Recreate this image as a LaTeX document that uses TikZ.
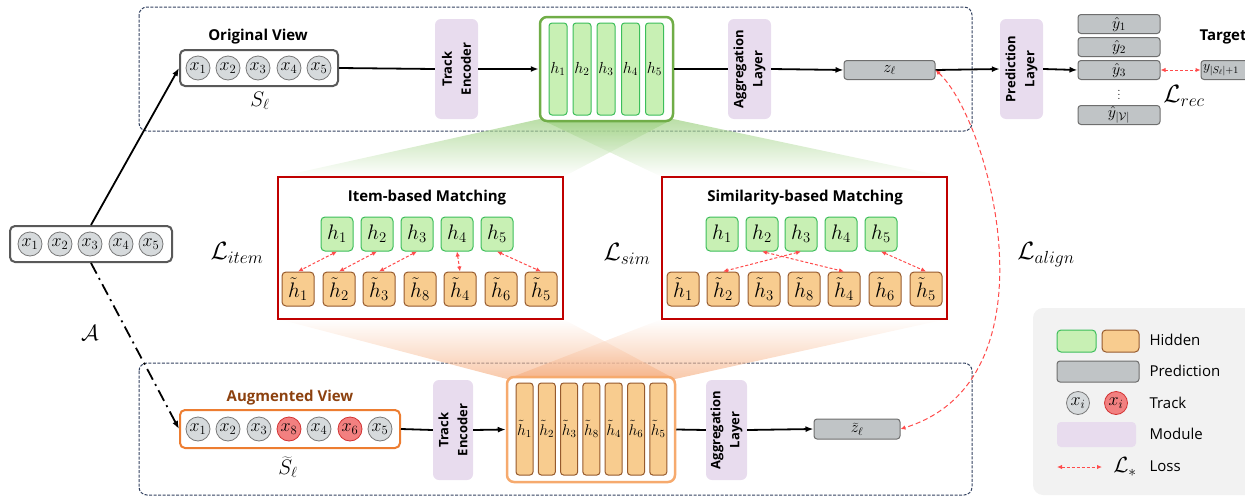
\RequirePackage{fix-cm}
\documentclass[tikz,border=0pt]{standalone}
\usepackage{fontspec}
\setsansfont{Open Sans}
\usetikzlibrary{arrows.meta,calc}
\newcommand{\fsz}[2]{\fontsize{#1}{#2}\selectfont}
\definecolor{vline}{RGB}{50,65,95}
\definecolor{seqgray}{RGB}{89,89,89}
\definecolor{tokfill}{RGB}{214,218,220}
\definecolor{tokdraw}{RGB}{120,120,120}
\definecolor{redtokfill}{RGB}{242,128,128}
\definecolor{redtokdraw}{RGB}{210,50,50}
\definecolor{modfill}{RGB}{232,220,238}
\definecolor{gfill}{RGB}{200,240,180}
\definecolor{gdraw}{RGB}{60,190,90}
\definecolor{gouter}{RGB}{112,173,71}
\definecolor{ofill}{RGB}{248,204,143}
\definecolor{odraw}{RGB}{150,90,45}
\definecolor{oouter}{RGB}{246,170,110}
\definecolor{augdraw}{RGB}{237,125,49}
\definecolor{predfill}{RGB}{192,196,198}
\definecolor{preddraw}{RGB}{110,110,110}
\definecolor{matchred}{RGB}{192,0,0}
\definecolor{lossred}{RGB}{255,75,75}
\definecolor{augtext}{RGB}{140,65,15}
\definecolor{legfill}{RGB}{242,242,242}
\definecolor{fangreen}{RGB}{150,205,120}
\definecolor{fanorange}{RGB}{244,165,115}
\tikzset{
  vbox/.style={draw=vline, dash pattern=on 3pt off 1.5pt, line width=1pt, rounded corners=8pt},
  seqbox/.style={draw=seqgray, line width=2pt, rounded corners=5pt, fill=white},
  augbox/.style={draw=augdraw, line width=2pt, rounded corners=5pt, fill=white},
  tok/.style={circle, draw=tokdraw, fill=tokfill, line width=0.8pt, minimum size=24pt, inner sep=0pt, font=\fsz{18}{18}},
  tokred/.style={tok, fill=redtokfill, draw=redtokdraw},
  module/.style={fill=modfill, rounded corners=6pt, minimum width=100pt, minimum height=43pt, rotate=90, align=center, inner sep=0pt, font=\sffamily\bfseries\fsz{13}{19}},
  gbar/.style={draw=gdraw, fill=gfill, line width=1pt, rounded corners=3pt, minimum width=18pt, minimum height=92pt, inner sep=0pt, font=\fsz{16}{16}},
  obar/.style={draw=odraw, fill=ofill, line width=1pt, rounded corners=3pt, minimum width=17pt, minimum height=92pt, inner sep=0pt, font=\fsz{15.5}{15.5}},
  gnode/.style={draw=gdraw, fill=gfill, line width=1pt, rounded corners=4pt, minimum width=32pt, minimum height=34pt, inner sep=0pt, font=\fsz{21}{21}},
  onode/.style={draw=odraw, fill=ofill, line width=1pt, rounded corners=4pt, minimum width=32pt, minimum height=34pt, inner sep=0pt, font=\fsz{21}{21}},
  pred/.style={draw=preddraw, fill=predfill, line width=1pt, rounded corners=3pt, minimum height=19pt, inner sep=0pt, font=\fsz{16}{16}},
  matchbox/.style={draw=matchred, line width=2.5pt},
  title/.style={font=\sffamily\bfseries\fsz{15}{15}},
  legtext/.style={anchor=west, font=\sffamily\fsz{15}{15}},
  lbl/.style={font=\fsz{25}{25}},
  arr/.style={-{Latex[length=8pt,width=6pt]}, line width=1.8pt},
  plain/.style={line width=1.8pt},
  loss/.style={{Latex[length=5pt,width=4.5pt]}-{Latex[length=5pt,width=4.5pt]}, draw=lossred, line width=1pt, dash pattern=on 3pt off 2pt},
}
\begin{document}
\begin{tikzpicture}[x=1pt,y=-1pt]
\useasboundingbox (0,0) rectangle (1245,498);
% view frames
\draw[vbox] (139,7) rectangle (972,131);
\draw[vbox] (139,363) rectangle (972,495);
% fans
\shade[top color=fangreen, bottom color=white, opacity=0.65] (540,119) -- (673,119) -- (563,177) -- (278,177) -- cycle;
\shade[top color=fangreen, bottom color=white, opacity=0.65] (540,119) -- (673,119) -- (947,177) -- (662,177) -- cycle;
\shade[top color=white, bottom color=fanorange, opacity=0.6] (278,319) -- (563,319) -- (675,379) -- (507,379) -- cycle;
\shade[top color=white, bottom color=fanorange, opacity=0.6] (662,319) -- (947,319) -- (675,379) -- (507,379) -- cycle;

% ---------- input sequence ----------
\node[seqbox, minimum width=162pt, minimum height=36pt] (in) at (91,244) {};
\node[tok] (i1) at (30,244) {$x_1$};
\node[tok] (i2) at (60,244) {$x_2$};
\node[tok] (i3) at (90,244) {$x_3$};
\node[tok] (i4) at (121,244) {$x_4$};
\node[tok] (i5) at (151,244) {$x_5$};
\node[font=\fsz{22}{22}] (A) at (90,333) {$\mathcal{A}$};

% ---------- original view ----------
\node[title] (ovl) at (258,37) {Original View};
\node[seqbox, minimum width=158pt, minimum height=36pt] (os) at (259,68) {};
\node[tok] (o1) at (198,68) {$x_1$};
\node[tok] (o2) at (228,68) {$x_2$};
\node[tok] (o3) at (258,68) {$x_3$};
\node[tok] (o4) at (289,68) {$x_4$};
\node[tok] (o5) at (319,68) {$x_5$};
\node[font=\fsz{21}{21}] (sl) at (260,101) {$S_\ell$};
\node[module] (te1) at (456.5,69) {Track\\Encoder};
\node[draw=gouter, line width=2.5pt, rounded corners=7pt, fill=white, minimum width=133pt, minimum height=104pt] (hb) at (606.5,69) {};
\node[gbar] (hb1) at (558,69) {$h_1$};
\node[gbar] (hb2) at (582,69) {$h_2$};
\node[gbar] (hb3) at (606,69) {$h_3$};
\node[gbar] (hb4) at (630.5,69) {$h_4$};
\node[gbar] (hb5) at (654.5,69) {$h_5$};
\node[module] (ag1) at (749.5,69) {Aggregation\\Layer};
\node[pred, minimum width=91pt] (z1) at (889.5,70) {$z_\ell$};
\node[module] (pl) at (1021.5,69) {Prediction\\Layer};
\node[pred, minimum width=82pt] (y1) at (1119,24) {$\hat{y}_1$};
\node[pred, minimum width=82pt] (y2) at (1119,47) {$\hat{y}_2$};
\node[pred, minimum width=82pt] (y3) at (1119,70) {$\hat{y}_3$};
\node[font=\fsz{12}{12}, inner sep=0pt] (ydots) at (1119,92) {$\vdots$};
\node[pred, minimum width=82pt] (yv) at (1119,115) {$\hat{y}_{|\mathcal{V}|}$};
\node[title, anchor=west] (tgt) at (1196,37) {Target};
\node[pred, minimum width=60pt] (yt) at (1231,70) {};
\node[anchor=west, font=\fsz{14}{14}, inner sep=0pt] (ytl) at (1203,70) {$y_{|S_\ell|+1}$};
\node[lbl] (lrec) at (1184,96) {$\mathcal{L}_{rec}$};

\draw[plain] (os.east) -- (te1.north);
\draw[arr] (te1.south) -- (hb.west);
\draw[plain] (hb.east) -- (ag1.north);
\draw[arr] (ag1.south) -- (z1.west);
\draw[arr] (z1.east) -- (pl.north);
\draw[arr] (pl.south) -- (y3.west);
\draw[loss] (y3.east) -- (yt.west);

% ---------- augmented view ----------
\node[title, text=augtext] (avl) at (290,398) {Augmented View};
\node[augbox, minimum width=220pt, minimum height=38pt] (as) at (290,429) {};
\node[tok] (a1) at (198,429) {$x_1$};
\node[tok] (a2) at (228,429) {$x_2$};
\node[tok] (a3) at (259,429) {$x_3$};
\node[tokred] (a4) at (289,429) {$x_8$};
\node[tok] (a5) at (319,429) {$x_4$};
\node[tokred] (a6) at (350,429) {$x_6$};
\node[tok] (a7) at (380,429) {$x_5$};
\node[font=\fsz{21}{21}] (stl) at (288,467) {$\widetilde{S}_\ell$};
\node[module, minimum height=40pt] (te2) at (453,430) {Track\\Encoder};
\node[draw=oouter, line width=2.5pt, rounded corners=7pt, fill=white, minimum width=168pt, minimum height=105pt] (ob) at (591,429.5) {};
\node[obar] (ob1) at (524.5,429) {$\tilde{h}_1$};
\node[obar] (ob2) at (546.8,429) {$\tilde{h}_2$};
\node[obar] (ob3) at (569.1,429) {$\tilde{h}_3$};
\node[obar] (ob4) at (591.4,429) {$\tilde{h}_8$};
\node[obar] (ob5) at (613.7,429) {$\tilde{h}_4$};
\node[obar] (ob6) at (636,429) {$\tilde{h}_6$};
\node[obar] (ob7) at (658.3,429) {$\tilde{h}_5$};
\node[module, minimum height=41pt] (ag2) at (726.5,430) {Aggregation\\Layer};
\node[pred, minimum width=86pt, minimum height=20pt] (zt) at (857,429) {$\widetilde{z}_\ell$};

\draw[plain] (as.east) -- (te2.north);
\draw[arr] (te2.south) -- (ob.west);
\draw[plain] (ob.east) -- (ag2.north);
\draw[arr] (ag2.south) -- (zt.west);

% ---------- branches from input ----------
\draw[arr] (in.north) -- (os.west);
\draw[arr, dash pattern=on 12pt off 5pt on 2pt off 5pt] (in.south) -- (as.west);

% ---------- item-based matching ----------
\draw[matchbox] (278,177) rectangle (563,319);
\node[title] (ibt) at (427,198) {Item-based Matching};
\node[gnode] (ih1) at (337,234) {$h_1$};
\node[gnode] (ih2) at (377,234) {$h_2$};
\node[gnode] (ih3) at (417,234) {$h_3$};
\node[gnode] (ih4) at (457,234) {$h_4$};
\node[gnode] (ih5) at (497,234) {$h_5$};
\node[onode] (io1) at (298,289) {$\tilde{h}_1$};
\node[onode] (io2) at (339,289) {$\tilde{h}_2$};
\node[onode] (io3) at (379,289) {$\tilde{h}_3$};
\node[onode] (io4) at (420,289) {$\tilde{h}_8$};
\node[onode] (io5) at (460,289) {$\tilde{h}_4$};
\node[onode] (io6) at (501,289) {$\tilde{h}_6$};
\node[onode] (io7) at (541,289) {$\tilde{h}_5$};
\draw[loss] (ih1.south) -- (io1.north);
\draw[loss] (ih2.south) -- (io2.north);
\draw[loss] (ih3.south) -- (io3.north);
\draw[loss] (ih4.south) -- (io5.north);
\draw[loss] (ih5.south) -- (io7.north);
\node[lbl] (litem) at (237,253) {$\mathcal{L}_{item}$};

% ---------- similarity-based matching ----------
\draw[matchbox] (662,177) rectangle (947,319);
\node[title] (sbt) at (805,198) {Similarity-based Matching};
\node[gnode] (sh1) at (722,234) {$h_1$};
\node[gnode] (sh2) at (762,234) {$h_2$};
\node[gnode] (sh3) at (801,234) {$h_3$};
\node[gnode] (sh4) at (841,234) {$h_4$};
\node[gnode] (sh5) at (881,234) {$h_5$};
\node[onode] (so1) at (683,289) {$\tilde{h}_1$};
\node[onode] (so2) at (723,289) {$\tilde{h}_2$};
\node[onode] (so3) at (764,289) {$\tilde{h}_3$};
\node[onode] (so4) at (804,289) {$\tilde{h}_8$};
\node[onode] (so5) at (844,289) {$\tilde{h}_4$};
\node[onode] (so6) at (885,289) {$\tilde{h}_6$};
\node[onode] (so7) at (926,289) {$\tilde{h}_5$};
\draw[loss] (sh2.south) -- (so5.north);
\draw[loss] (sh3.south) -- (so2.north);
\draw[loss] (sh5.south) -- (so7.north);
\node[lbl] (lsim) at (627,254) {$\mathcal{L}_{sim}$};

% ---------- alignment loss ----------
\draw[loss, dash pattern=on 5pt off 3pt] (z1.east) .. controls (990,120) and (1060,380) .. (zt.east);
\node[lbl] (lalign) at (1046,255) {$\mathcal{L}_{align}$};

% ---------- legend ----------
\fill[legfill, rounded corners=10pt] (1033,308) rectangle (1265,495);
\node[gnode, minimum width=39pt, minimum height=22pt] (lg1) at (1076.5,341) {};
\node[onode, minimum width=37pt, minimum height=22pt] (lg2) at (1120.5,341) {};
\node[legtext] (lt1) at (1146,340) {Hidden};
\node[pred, minimum width=82pt, minimum height=21pt] (lg3) at (1098,371.5) {};
\node[legtext] (lt2) at (1146,371) {Prediction};
\node[tok, minimum size=23pt] (lg4) at (1078,403) {$x_i$};
\node[tokred, minimum size=23pt] (lg5) at (1116,403) {$x_i$};
\node[legtext] (lt3) at (1146,403) {Track};
\node[fill=modfill, rounded corners=4pt, minimum width=79pt, minimum height=25pt] (lg6) at (1096.5,434.5) {};
\node[legtext] (lt4) at (1146,434) {Module};
\coordinate (lla) at (1057,467);
\coordinate (llb) at (1102,467);
\draw[loss] (lla) -- (llb);
\node[font=\fsz{22}{22}] (lls) at (1125,467) {$\mathcal{L}_*$};
\node[legtext] (lt5) at (1146,466) {Loss};
\end{tikzpicture}
\end{document}
